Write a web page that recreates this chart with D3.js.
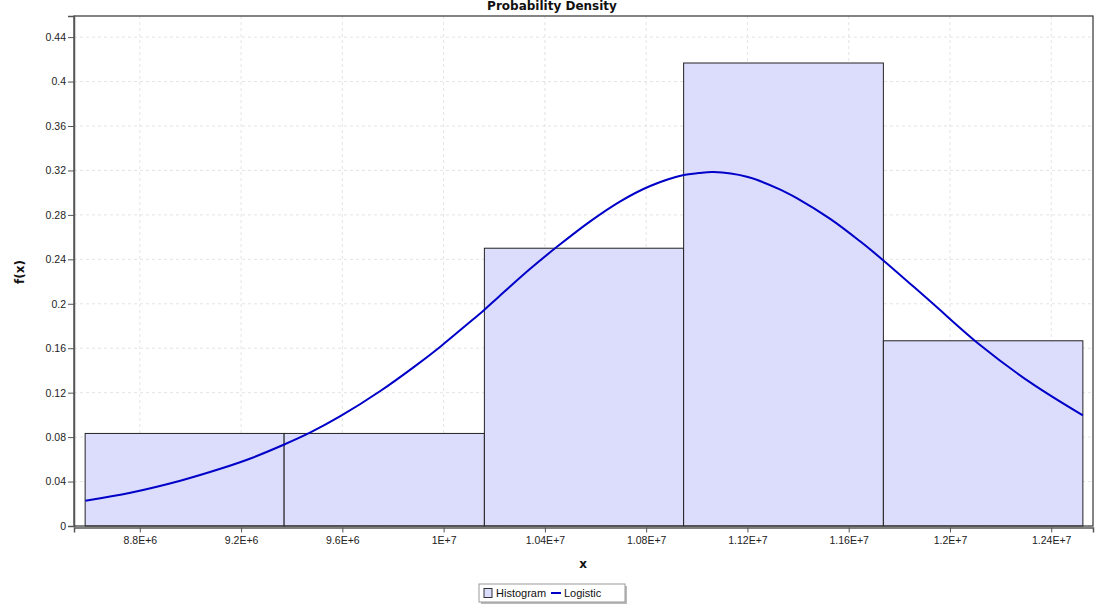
<!DOCTYPE html>
<html>
<head>
<meta charset="utf-8">
<style>
  body { margin: 0; background: #fff; }
  svg { display: block; }
</style>
</head>
<body>
<svg id="container" width="1096" height="606"></svg>

<script src="https://d3js.org/d3.v7.min.js"></script>
<script>
  // Histogram of x with a fitted Logistic density on top

  // bin edges of the histogram (5 bins)
  const binEdges = [8584000, 9370000, 10161000, 10948000, 11737000, 12525000]
  // bar heights, f(x)
  const binValues = [0.0833, 0.0833, 0.25, 0.4167, 0.1667]

  // logistic curve, points
  const curveX = [8585000, 8763000, 8960000, 9118000, 9237000, 9368000, 9474000, 9592000,
    9750000, 9882000, 9987000, 10092000, 10158000, 10217000, 10342000, 10454000,
    10579000, 10698000, 10816000, 10948000, 11007000, 11066000, 11198000, 11330000,
    11395000, 11527000, 11645000, 11737000, 11922000, 12119000, 12317000, 12525000]
  const curveY = [0.0228, 0.0300, 0.0408, 0.0515, 0.0608, 0.0731, 0.0842, 0.0988,
    0.1215, 0.1430, 0.1614, 0.1813, 0.1940, 0.2062, 0.2315, 0.2524,
    0.2742, 0.2922, 0.3060, 0.3159, 0.3176, 0.3185, 0.3143, 0.3028,
    0.2951, 0.2764, 0.2562, 0.2390, 0.2022, 0.1629, 0.1292, 0.0995]

  // ticks
  const xTicks = [8800000, 9200000, 9600000, 10000000, 10400000, 10800000, 11200000, 11600000, 12000000, 12400000]
  const xTickLabels = ['8.8E+6', '9.2E+6', '9.6E+6', '1E+7', '1.04E+7', '1.08E+7', '1.12E+7', '1.16E+7', '1.2E+7', '1.24E+7']
  const yTicks = [0, 0.04, 0.08, 0.12, 0.16, 0.2, 0.24, 0.28, 0.32, 0.36, 0.4, 0.44]
  const yTickLabels = ['0', '0.04', '0.08', '0.12', '0.16', '0.2', '0.24', '0.28', '0.32', '0.36', '0.4', '0.44']

  const plotL = 74, plotR = 1093, plotT = 16, plotB = 526

  const xScale = d3.scaleLinear()
    .domain([8540000, 12565000])
    .range([plotL, plotR])
  const yScale = d3.scaleLinear()
    .domain([0, 0.459])
    .range([plotB, plotT])

  const svg = d3.select('#container')
  const tickFont = 'Liberation Sans, Arial, sans-serif'

  // grid lines
  const grid = svg.append('g')
  grid.selectAll('line.vg')
    .data(xTicks)
    .enter()
    .append('line')
    .attr('x1', d => xScale(d)).attr('x2', d => xScale(d))
    .attr('y1', plotT).attr('y2', plotB)
    .attr('stroke', '#e4e4e4')
    .attr('stroke-dasharray', '3,3')
  grid.selectAll('line.hg')
    .data(yTicks)
    .enter()
    .append('line')
    .attr('x1', plotL).attr('x2', plotR)
    .attr('y1', d => yScale(d)).attr('y2', d => yScale(d))
    .attr('stroke', '#e4e4e4')
    .attr('stroke-dasharray', '3,3')

  // histogram bars
  svg.append('g')
    .selectAll('rect')
    .data(binValues)
    .enter()
    .append('rect')
    .attr('x', (d, i) => xScale(binEdges[i]))
    .attr('y', d => yScale(d))
    .attr('width', (d, i) => xScale(binEdges[i + 1]) - xScale(binEdges[i]))
    .attr('height', d => yScale(0) - yScale(d))
    .attr('fill', '#dcdcfc')
    .attr('stroke', '#222')
    .attr('stroke-width', 1)

  // logistic curve
  svg.append('clipPath').attr('id', 'clip')
    .append('rect')
    .attr('x', plotL).attr('y', plotT)
    .attr('width', plotR - plotL).attr('height', plotB - plotT)

  const line = d3.line()
    .x(d => xScale(d[0]))
    .y(d => yScale(d[1]))
    .curve(d3.curveCatmullRom)

  svg.append('path')
    .datum(curveX.map((x, i) => [x, curveY[i]]))
    .attr('clip-path', 'url(#clip)')
    .attr('d', line)
    .attr('fill', 'none')
    .attr('stroke', '#0000c8')
    .attr('stroke-width', 2)

  // plot outline
  svg.append('rect')
    .attr('x', plotL).attr('y', plotT)
    .attr('width', plotR - plotL).attr('height', plotB - plotT)
    .attr('fill', 'none')
    .attr('stroke', '#333')
    .attr('stroke-width', 1.2)

  // x axis
  const xAxis = d3.axisBottom(xScale)
    .tickValues(xTicks)
    .tickFormat((d, i) => xTickLabels[i])
    .tickSize(5)
    .tickPadding(4)
  const xMinor = d3.axisBottom(xScale)
    .tickValues(d3.range(8600000, 12550000, 100000))
    .tickFormat('')
    .tickSize(3)

  const gx = svg.append('g').attr('transform', `translate(0,${plotB + 1.5})`)
  gx.call(xMinor)
  gx.call(xAxis)
  gx.selectAll('.domain').attr('stroke', '#555').attr('stroke-width', 1.5)
  gx.selectAll('line').attr('stroke', '#555')
  gx.selectAll('text').attr('font-family', tickFont).attr('font-size', 10.5).attr('fill', '#222')

  // y axis
  const yAxis = d3.axisLeft(yScale)
    .tickValues(yTicks)
    .tickFormat((d, i) => yTickLabels[i])
    .tickSize(6)
    .tickPadding(2)
  const yMinor = d3.axisLeft(yScale)
    .tickValues(d3.range(0.01, 0.455, 0.01))
    .tickFormat('')
    .tickSize(3)

  const gy = svg.append('g').attr('transform', `translate(${plotL},0)`)
  gy.call(yMinor)
  gy.call(yAxis)
  gy.selectAll('.domain').attr('stroke', '#555').attr('stroke-width', 1.5)
  gy.selectAll('line').attr('stroke', '#555')
  gy.selectAll('text').attr('font-family', tickFont).attr('font-size', 10.5).attr('fill', '#222')

  // titles
  svg.append('text')
    .attr('x', 552).attr('y', 10)
    .attr('text-anchor', 'middle')
    .attr('font-family', 'DejaVu Sans, Verdana, sans-serif')
    .attr('font-weight', 'bold')
    .attr('font-size', 12)
    .attr('fill', '#111')
    .text('Probability Density')

  svg.append('text')
    .attr('x', 583).attr('y', 568)
    .attr('text-anchor', 'middle')
    .attr('font-family', 'DejaVu Sans, Verdana, sans-serif')
    .attr('font-weight', 'bold')
    .attr('font-size', 12)
    .attr('fill', '#111')
    .text('x')

  svg.append('text')
    .attr('transform', 'translate(24,272) rotate(-90)')
    .attr('text-anchor', 'middle')
    .attr('font-family', 'DejaVu Sans, Verdana, sans-serif')
    .attr('font-weight', 'bold')
    .attr('font-size', 12)
    .attr('fill', '#111')
    .text('f(x)')

  // legend
  const lg = svg.append('g').attr('transform', 'translate(479,584)')
  lg.append('rect')
    .attr('x', 2).attr('y', 2).attr('width', 146).attr('height', 18)
    .attr('fill', '#bbb')
  lg.append('rect')
    .attr('x', 0).attr('y', 0).attr('width', 146).attr('height', 18)
    .attr('fill', '#fff')
    .attr('stroke', '#999')
  lg.append('rect')
    .attr('x', 5).attr('y', 4.5).attr('width', 8).attr('height', 9)
    .attr('fill', '#dcdcfc')
    .attr('stroke', '#333')
  lg.append('text')
    .attr('x', 17).attr('y', 13)
    .attr('font-family', tickFont).attr('font-size', 11).attr('fill', '#111')
    .text('Histogram')
  lg.append('line')
    .attr('x1', 72).attr('x2', 82).attr('y1', 9).attr('y2', 9)
    .attr('stroke', '#0000c8').attr('stroke-width', 2)
  lg.append('text')
    .attr('x', 85).attr('y', 13)
    .attr('font-family', tickFont).attr('font-size', 11).attr('fill', '#111')
    .text('Logistic')
</script>
</body>
</html>
